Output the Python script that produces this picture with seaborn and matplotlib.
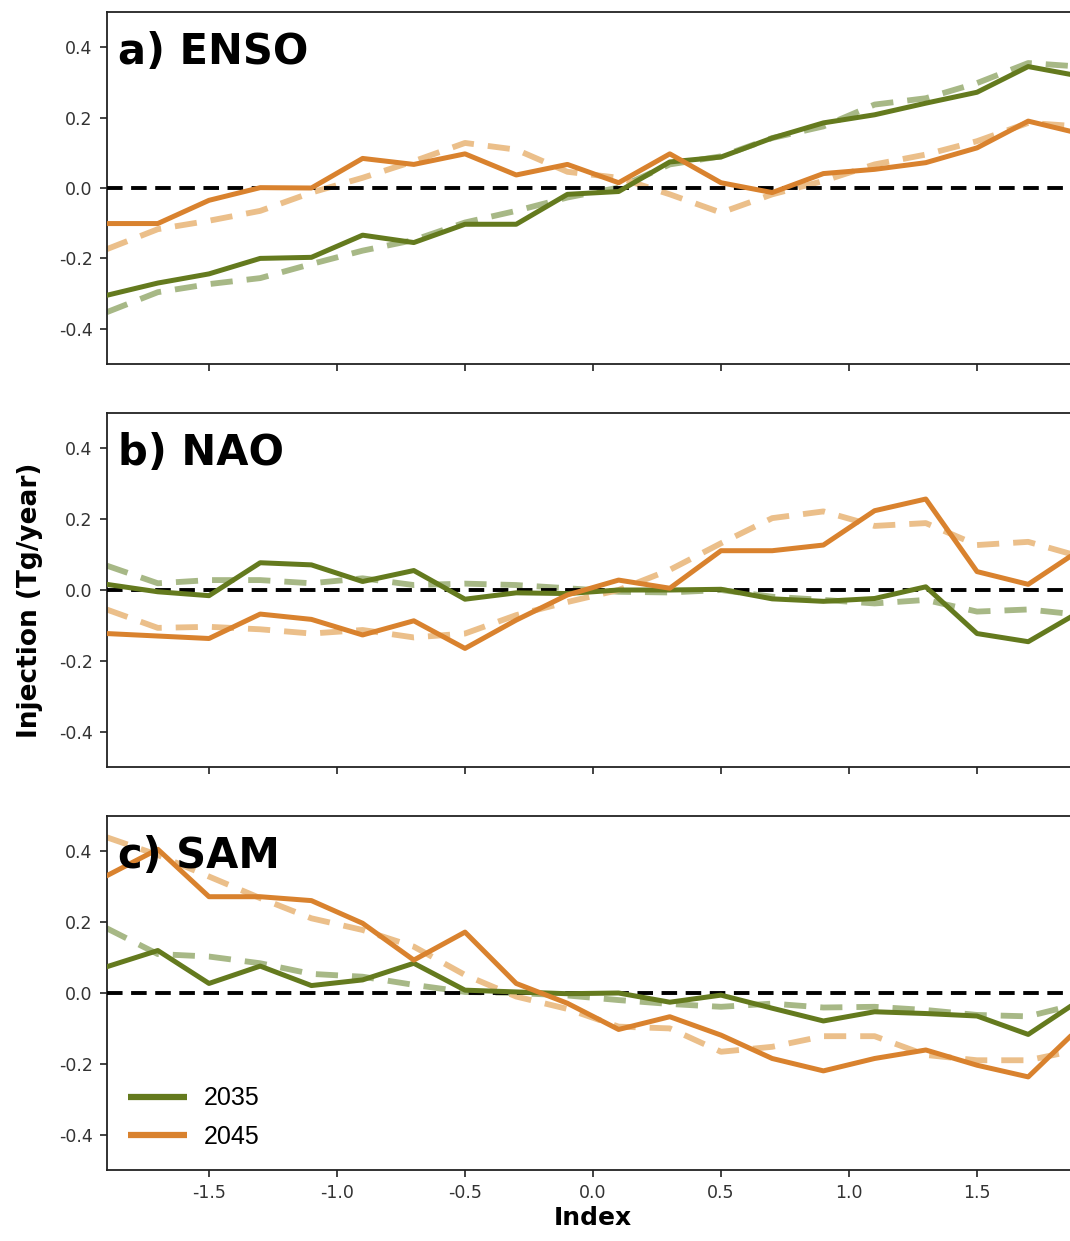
import numpy as np
import pandas as pd
import matplotlib
matplotlib.use("Agg")
import matplotlib.pyplot as plt
import seaborn as sns

sns.set_theme(style="ticks")
plt.rcParams['font.family'] = ['DejaVu Sans']

index_vals = [-1.9, -1.7, -1.5, -1.3, -1.1, -0.9, -0.7, -0.5, -0.3, -0.1,
              0.1, 0.3, 0.5, 0.7, 0.9, 1.1, 1.3, 1.5, 1.7, 1.9]

# a) ENSO
enso_2035 = [-0.305, -0.27, -0.244, -0.20, -0.197, -0.134, -0.155, -0.103, -0.103, -0.018,
             -0.01, 0.074, 0.088, 0.142, 0.185, 0.208, 0.241, 0.272, 0.345, 0.318]
enso_2035_fit = [-0.353, -0.296, -0.273, -0.256, -0.216, -0.178, -0.148, -0.098, -0.065, -0.027,
                 0.001, 0.067, 0.09, 0.142, 0.175, 0.237, 0.255, 0.298, 0.355, 0.345]
enso_2045 = [-0.101, -0.101, -0.035, 0.001, 0.0, 0.084, 0.067, 0.097, 0.037, 0.067,
             0.015, 0.097, 0.015, -0.013, 0.041, 0.053, 0.072, 0.114, 0.19, 0.155]
enso_2045_fit = [-0.174, -0.117, -0.093, -0.065, -0.013, 0.029, 0.076, 0.128, 0.109, 0.046,
                 0.029, -0.018, -0.07, -0.018, 0.02, 0.067, 0.095, 0.133, 0.185, 0.175]

# b) NAO
nao_2035 = [0.016, -0.005, -0.016, 0.077, 0.071, 0.024, 0.055, -0.026, -0.008, -0.01,
            0.0, 0.0, 0.002, -0.025, -0.032, -0.024, 0.009, -0.123, -0.146, -0.062]
nao_2035_fit = [0.069, 0.019, 0.028, 0.028, 0.019, 0.033, 0.014, 0.018, 0.014, 0.005,
                -0.005, -0.007, 0.0, -0.019, -0.028, -0.038, -0.028, -0.061, -0.055, -0.07]
nao_2045 = [-0.123, -0.13, -0.137, -0.068, -0.083, -0.127, -0.087, -0.165, -0.085, -0.014,
            0.028, 0.005, 0.111, 0.111, 0.127, 0.224, 0.257, 0.052, 0.016, 0.112]
nao_2045_fit = [-0.055, -0.107, -0.104, -0.111, -0.123, -0.113, -0.134, -0.123, -0.071, -0.034,
                0.0, 0.057, 0.132, 0.203, 0.222, 0.181, 0.189, 0.127, 0.136, 0.095]

# c) SAM
sam_2035 = [0.074, 0.12, 0.027, 0.076, 0.021, 0.037, 0.084, 0.008, 0.003, -0.002,
            0.0, -0.026, -0.006, -0.043, -0.079, -0.053, -0.058, -0.065, -0.117, -0.021]
sam_2035_fit = [0.183, 0.11, 0.103, 0.084, 0.054, 0.046, 0.023, 0.003, 0.0, -0.007,
                -0.02, -0.031, -0.039, -0.03, -0.041, -0.039, -0.048, -0.062, -0.066, -0.03]
sam_2045 = [0.331, 0.406, 0.272, 0.272, 0.261, 0.197, 0.093, 0.172, 0.027, -0.029,
            -0.103, -0.067, -0.119, -0.185, -0.22, -0.185, -0.161, -0.204, -0.237, -0.098]
sam_2045_fit = [0.44, 0.39, 0.329, 0.268, 0.211, 0.178, 0.131, 0.051, -0.01, -0.045,
                -0.095, -0.1, -0.166, -0.152, -0.122, -0.122, -0.175, -0.19, -0.19, -0.16]

panel_titles = ["a) ENSO", "b) NAO", "c) SAM"]
years = ["2035", "2045"]
xticks = [-1.5, -1.0, -0.5, 0.0, 0.5, 1.0, 1.5]
yticks = [-0.4, -0.2, 0.0, 0.2, 0.4]

panels = [
    (enso_2035, enso_2035_fit, enso_2045, enso_2045_fit),
    (nao_2035, nao_2035_fit, nao_2045, nao_2045_fit),
    (sam_2035, sam_2035_fit, sam_2045, sam_2045_fit),
]

green = "#647a1e"
orange = "#d9822e"
green_light = "#a7b886"
orange_light = "#ebbf8a"

W, H = 1070, 1241
fig = plt.figure(figsize=(W / 100, H / 100), dpi=100)

left_px = 106.6
right_px = 1079.4
tops = [12, 413, 816]
bottoms = [364, 767, 1170]

axes = []
for i in range(3):
    ax = fig.add_axes([left_px / W, 1 - bottoms[i] / H,
                       (right_px - left_px) / W, (bottoms[i] - tops[i]) / H])
    axes.append(ax)

for i, ax in enumerate(axes):
    s35, f35, s45, f45 = panels[i]
    df = pd.DataFrame({"Index": index_vals, "s35": s35, "f35": f35, "s45": s45, "f45": f45})
    sns.lineplot(data=df, x="Index", y="f35", ax=ax, color=green_light, lw=4.2,
                 linestyle=(0, (3.8, 2.4)), zorder=2)
    sns.lineplot(data=df, x="Index", y="f45", ax=ax, color=orange_light, lw=4.2,
                 linestyle=(0, (3.8, 2.4)), zorder=2)
    ax.axhline(0, color="black", lw=2.8, linestyle=(0, (4, 2.2)), zorder=3)
    sns.lineplot(data=df, x="Index", y="s35", ax=ax, color=green, lw=3.6, zorder=4,
                 label=years[0] if i == 2 else None)
    sns.lineplot(data=df, x="Index", y="s45", ax=ax, color=orange, lw=3.6, zorder=4,
                 label=years[1] if i == 2 else None)
    ax.set_xlim(-1.9, 1.9)
    ax.set_ylim(-0.5, 0.5)
    ax.set_xticks(xticks)
    ax.set_yticks(yticks)
    ax.set_yticklabels([f"{v:.1f}" for v in yticks])
    ax.tick_params(axis="both", labelsize=12.5, length=5, width=1.2, color="#222222",
                   labelcolor="#333333", pad=5)
    for sp in ax.spines.values():
        sp.set_linewidth(1.3)
        sp.set_color("#222222")
    ax.set_ylabel("")
    ax.set_xlabel("")
    if i < 2:
        ax.set_xticklabels([])
    else:
        ax.set_xticklabels([f"{v:.1f}" for v in xticks])
    ax.text(0.012, 0.945, panel_titles[i], transform=ax.transAxes, ha="left", va="top",
            fontsize=30, fontweight="bold", color="black", zorder=6)

leg = axes[2].legend(loc="lower left", frameon=False,
                     prop={"family": "Liberation Sans", "size": 18},
                     handlelength=2.35, handletextpad=0.7, labelspacing=0.58,
                     borderaxespad=0.5, borderpad=0.35, labelcolor="black")
for lh in leg.get_lines():
    lh.set_linewidth(4.5)
    lh.set_solid_capstyle("butt")

axes[2].set_xlabel("Index", fontsize=18, fontweight="bold", labelpad=3, color="black")
fig.text(30 / W, 1 - 600 / H, "Injection (Tg/year)", rotation=90, ha="center", va="center",
         fontsize=19, fontweight="bold", color="black")

fig.savefig("out.png", dpi=100)
